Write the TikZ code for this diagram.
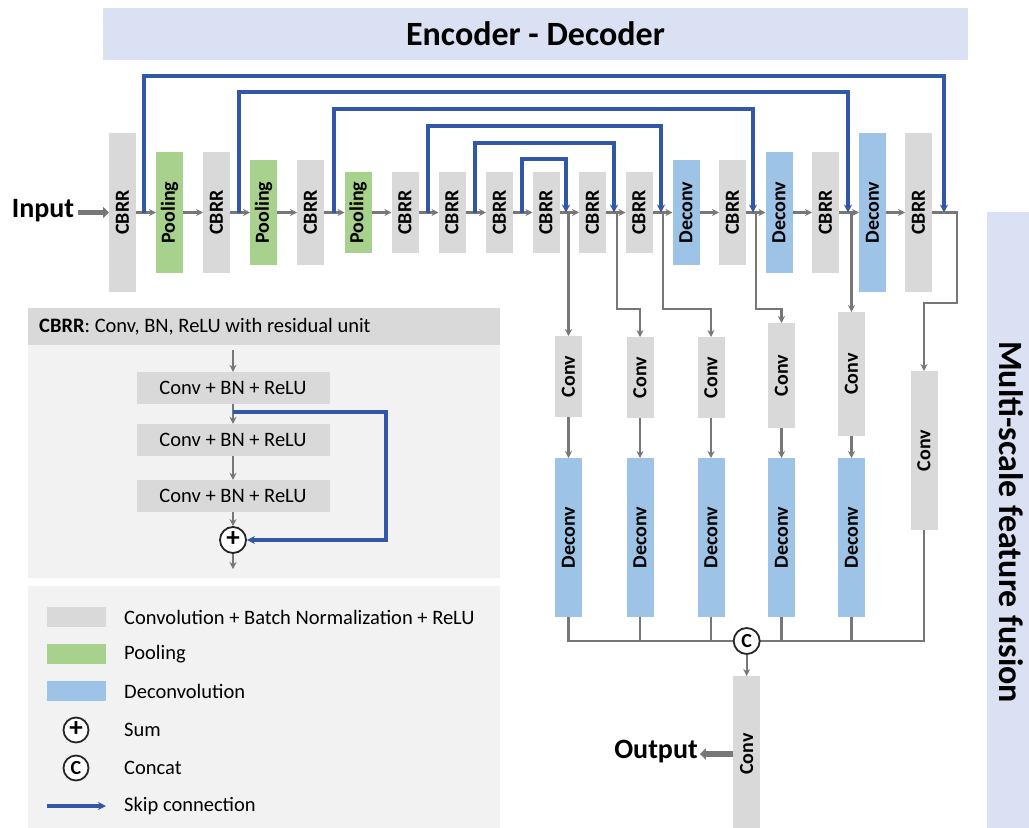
\documentclass[tikz,border=0pt]{standalone}
\usepackage{fontspec}
\setmainfont{Carlito}
\usetikzlibrary{arrows.meta}

\definecolor{blockgray}{HTML}{D9D9D9}
\definecolor{poolgreen}{HTML}{A9D18E}
\definecolor{deconvblue}{HTML}{9DC3E6}
\definecolor{bannerblue}{HTML}{DAE1F2}
\definecolor{skipblue}{HTML}{3157A6}
\definecolor{flowgray}{HTML}{777777}
\definecolor{panelgray}{HTML}{F2F2F2}

\newcommand\fBlk{\fontsize{20}{22}\selectfont\bfseries}
\newcommand\fTxt{\fontsize{20.5}{23}\selectfont}
\newcommand\fBig{\fontsize{28}{30}\selectfont\bfseries}
\newcommand\fTitle{\fontsize{34}{36}\selectfont\bfseries}
\newcommand\fOp{\fontsize{20}{20}\selectfont\bfseries}
\newcommand\fPlus{\fontsize{27}{27}\selectfont\bfseries}

\tikzset{
  unit/.style={minimum width=27pt, inner sep=0pt, outer sep=0pt},
  cbrr/.style={unit, fill=blockgray, label={[rotate=90,font=\fBlk]center:CBRR}},
  pool/.style={unit, fill=poolgreen, label={[rotate=90,font=\fBlk]center:Pooling}},
  dcv/.style={unit, fill=deconvblue, label={[rotate=90,font=\fBlk]center:Deconv}},
  cnv/.style={unit, fill=blockgray, label={[rotate=90,font=\fBlk]center:Conv}},
  flow/.style={draw=flowgray, line width=2.4pt, -{Stealth[length=7pt,width=7pt]}},
  wire/.style={draw=flowgray, line width=2.4pt},
  skip/.style={draw=skipblue, line width=3.2pt, -{Stealth[length=8pt,width=8pt]}},
  fat/.style={draw=flowgray, line width=5.5pt, -{Triangle[length=6pt,width=11pt]}},
  op/.style={circle, draw=black!85, fill=white, line width=1.8pt, inner sep=0pt, minimum size=26pt, font=\fOp},
  legop/.style={op, minimum size=25pt},
  inner/.style={fill=blockgray, minimum width=193pt, minimum height=32pt, inner sep=0pt, font=\fTxt},
  swatch/.style={minimum width=59pt, minimum height=20pt, inner sep=0pt},
  legtxt/.style={anchor=west, font=\fTxt, inner sep=0pt},
  panel/.style={anchor=north west, inner sep=0pt, minimum width=472pt},
  banner/.style={fill=bannerblue, inner sep=0pt, font=\fTitle},
}

\begin{document}
\begin{tikzpicture}[x=1pt,y=-1pt]
\useasboundingbox (0,0) rectangle (1029,828);

% ---------------- banners ----------------
\node[banner, minimum width=865pt, minimum height=52pt] (enc) at (535.5,34) {Encoder - Decoder};
\node[banner, anchor=north west, minimum width=50pt, minimum height=630pt] (msf) at (987,212) {};
\node[rotate=-90, font=\fTitle] (msftxt) at (1011,522) {Multi-scale feature fusion};

% ---------------- encoder-decoder row ----------------
\node[cbrr, minimum height=159pt] (b0)  at (122.5,212.5) {};
\node[pool, minimum height=121pt] (b1)  at (169.5,212.5) {};
\node[cbrr, minimum height=121pt] (b2)  at (216.5,212.5) {};
\node[pool, minimum height=105pt] (b3)  at (263.5,212.5) {};
\node[cbrr, minimum height=105pt] (b4)  at (310.5,212.5) {};
\node[pool, minimum height=81pt]  (b5)  at (358,212.5) {};
\node[cbrr, minimum height=81pt]  (b6)  at (405,212.5) {};
\node[cbrr, minimum height=81pt]  (b7)  at (452,212.5) {};
\node[cbrr, minimum height=81pt]  (b8)  at (499.5,212.5) {};
\node[cbrr, minimum height=81pt]  (b9)  at (546,212.5) {};
\node[cbrr, minimum height=81pt]  (b10) at (592.5,212.5) {};
\node[cbrr, minimum height=81pt]  (b11) at (639,212.5) {};
\node[dcv,  minimum height=105pt] (b12) at (686,212.5) {};
\node[cbrr, minimum height=105pt] (b13) at (732.5,212.5) {};
\node[dcv,  minimum height=121pt] (b14) at (779,212.5) {};
\node[cbrr, minimum height=121pt] (b15) at (825.5,212.5) {};
\node[dcv,  minimum height=159pt] (b16) at (872.5,212.5) {};
\node[cbrr, minimum height=159pt] (b17) at (918.5,212.5) {};

\foreach \i [count=\j from 1] in {0,...,16}
  \draw[flow] (b\i.east) -- (b\j.west);

% input
\node[font=\fBig, inner sep=2pt] (inp) at (43,211) {Input};
\draw[fat] (inp.east |- b0.west) ++(2,0) -- (b0.west);

% skip connections
\coordinate (s1) at (144,212.5);  \coordinate (t1) at (944,212.5);
\coordinate (s2) at (239,212.5);  \coordinate (t2) at (848,212.5);
\coordinate (s3) at (334,212.5);  \coordinate (t3) at (753,212.5);
\coordinate (s4) at (428,212.5);  \coordinate (t4) at (661,212.5);
\coordinate (s5) at (475,212.5);  \coordinate (t5) at (614,212.5);
\coordinate (s6) at (522,212.5);  \coordinate (t6) at (566,212.5);
\draw[skip] (s1) -- ++(0,-136.5) -| (t1);
\draw[skip] (s2) -- ++(0,-120.5) -| (t2);
\draw[skip] (s3) -- ++(0,-103.5) -| (t3);
\draw[skip] (s4) -- ++(0,-86.5)  -| (t4);
\draw[skip] (s5) -- ++(0,-69.5)  -| (t5);
\draw[skip] (s6) -- ++(0,-53.5)  -| (t6);

% ---------------- multi-scale branches ----------------
\node[cnv, minimum height=81pt]  (c1) at (568.5,376.5) {};
\node[cnv, minimum height=81pt]  (c2) at (640,377.5) {};
\node[cnv, minimum height=81pt]  (c3) at (711,377.5) {};
\node[cnv, minimum height=105pt] (c4) at (781.5,375.5) {};
\node[cnv, minimum height=124pt] (c5) at (851.5,374) {};
\node[cnv, minimum height=159pt] (c6) at (924,450.5) {};

\foreach \k/\x in {1/568.5,2/640,3/711,4/781.5,5/851.5}
  \node[dcv, minimum height=159pt] (d\k) at (\x,537.5) {};

\coordinate (p1) at (568.5,212.5);
\coordinate (p2) at (617,212.5);
\coordinate (p3) at (663,212.5);
\coordinate (p4) at (756,212.5);
\coordinate (p5) at (851.5,212.5);
\draw[flow] (p1) -- (c1.north);
\draw[flow] (p2) -- ++(0,96.5) -| (c2.north);
\draw[flow] (p3) -- ++(0,96.5) -| (c3.north);
\draw[flow] (p4) -- ++(0,96.5) -| (c4.north);
\draw[flow] (p5) -- (c5.north);
\draw[flow] (b17.east) -| ++(25,90.5) -| (c6.north);

\foreach \k in {1,...,5}
  \draw[flow] (c\k.south) -- (d\k.north);

% concatenation
\draw[wire] (d1.south) |- (746.7,641);
\draw[wire] (d2.south) |- (746.7,641);
\draw[wire] (d3.south) |- (746.7,641);
\draw[wire] (d4.south) |- (746.7,641);
\draw[wire] (d5.south) |- (746.7,641);
\draw[wire] (c6.south) |- (746.7,641);
\node[op] (cc) at (746.7,641) {C};

\node[cnv, minimum height=156pt] (oc) at (746.7,754) {};
\draw[flow] (cc.south) -- (oc.north);
\node[font=\fBig, inner sep=2pt] (outp) at (656,752) {Output};
\draw[fat] (oc.west) -- (outp.east |- oc.west);

% ---------------- CBRR detail panel ----------------
\node[panel, fill=blockgray, minimum height=37pt] (hdr) at (28,308) {};
\node[panel, fill=panelgray, minimum height=233pt] (body) at (28,345) {};
\node[anchor=west, font=\fTxt, inner sep=0pt] (hdrtxt) at (39,327) {\textbf{CBRR}: Conv, BN, ReLU with residual unit};

\node[inner] (r1) at (233,388) {Conv + BN + ReLU};
\node[inner] (r2) at (233,440) {Conv + BN + ReLU};
\node[inner] (r3) at (233,496) {Conv + BN + ReLU};
\node[op, font=\fPlus] (sm) at (233,540) {\raisebox{1pt}{+}};
\coordinate (rin) at (233,350);
\coordinate (rout) at (233,569);
\coordinate (rs) at (233,412);
\draw[flow] (rin) -- (r1.north);
\draw[flow] (r1.south) -- (r2.north);
\draw[flow] (r2.south) -- (r3.north);
\draw[flow] (r3.south) -- (sm.north);
\draw[flow] (sm.south) -- (rout);
\draw[skip] (rs) -- ++(153,0) |- (sm.east);

% ---------------- legend ----------------
\node[panel, fill=panelgray, minimum height=250pt] (leg) at (28,586) {};
\node[swatch, fill=blockgray]  (lg1) at (76,617) {};
\node[swatch, fill=poolgreen]  (lg2) at (76,654) {};
\node[swatch, fill=deconvblue] (lg3) at (76,691) {};
\node[legop, font=\fPlus] (lg4) at (76,730) {\raisebox{1pt}{+}};
\node[legop] (lg5) at (76,768) {C};
\coordinate (ka) at (47,806);
\coordinate (kb) at (106,806);
\draw[skip] (ka) -- (kb);
\node[legtxt] (lt1) at (124,617) {Convolution + Batch Normalization + ReLU};
\node[legtxt] (lt2) at (124,654) {Pooling};
\node[legtxt] (lt3) at (124,691) {Deconvolution};
\node[legtxt] (lt4) at (124,730) {Sum};
\node[legtxt] (lt5) at (124,768) {Concat};
\node[legtxt] (lt6) at (124,806) {Skip connection};
\end{tikzpicture}
\end{document}
